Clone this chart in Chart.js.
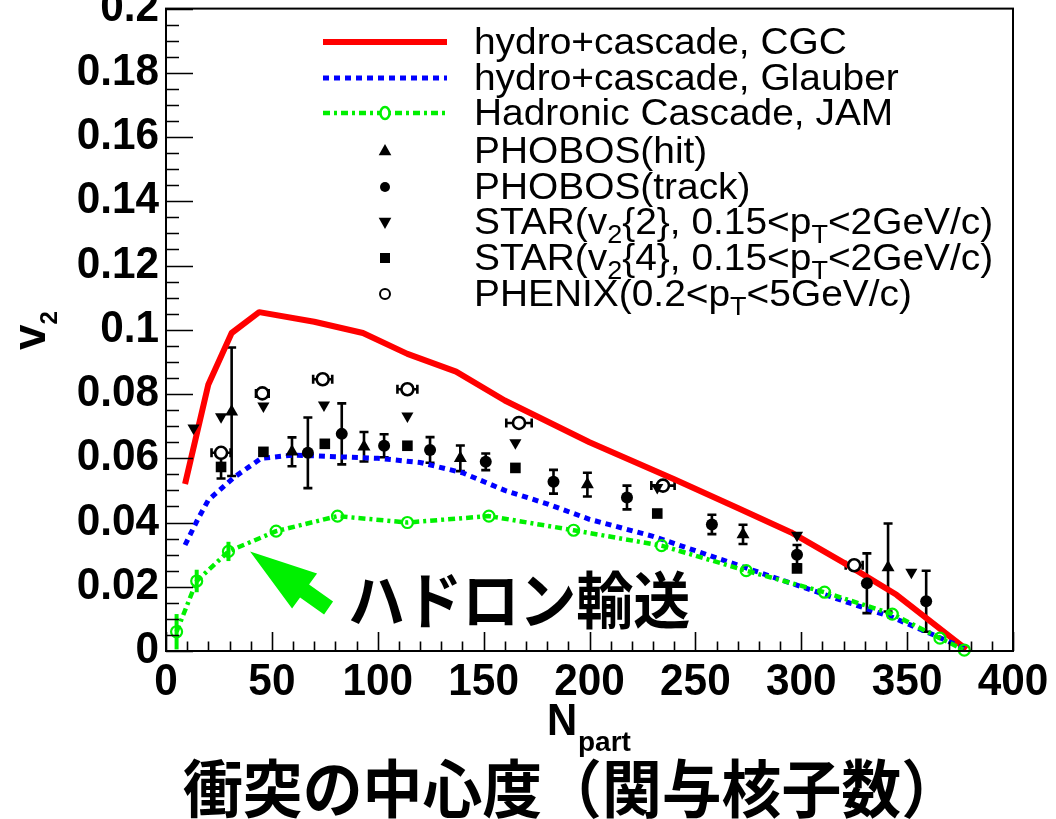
<!DOCTYPE html>
<html><head><meta charset="utf-8">
<script src="https://cdn.jsdelivr.net/npm/chart.js@4.4.1/dist/chart.umd.min.js"></script>
<style>html,body{margin:0;padding:0;background:#fff;}#c{display:block;}</style>
</head><body>
<canvas id="c" width="1056" height="819"></canvas>
<script>
// ---------- data ----------
const cgcN = [9, 20, 31, 44, 70, 93, 114, 137, 160, 200, 240, 270, 295, 320, 345, 378];
const cgcV = [0.052, 0.083, 0.099, 0.1055, 0.1025, 0.099, 0.0925, 0.087, 0.078, 0.065, 0.0535, 0.0445, 0.037, 0.0275, 0.0175, 0.0005];

const glauberN = [9, 15, 20, 32, 45, 60, 80, 100, 120, 140, 160, 180, 200, 230, 260, 280, 310, 343, 365, 378];
const glauberV = [0.033, 0.041, 0.047, 0.054, 0.060, 0.061, 0.0605, 0.060, 0.0587, 0.0555, 0.050, 0.0458, 0.041, 0.0357, 0.029, 0.0245, 0.0178, 0.0105, 0.0043, 0.0005];

const jamN = [5, 14.5, 29.5, 52, 81, 114, 152.5, 192.5, 234, 274, 311, 343, 365.5, 377];
const jamV = [0.006, 0.0218, 0.031, 0.0373, 0.042, 0.040, 0.042, 0.0376, 0.0328, 0.025, 0.0183, 0.0115, 0.004, 0.0003];
const jamErr = [0.0055, 0.0035, 0.003, 0, 0, 0, 0, 0, 0, 0, 0, 0, 0, 0];

const phobosHitN = [31, 59.5, 93.5, 139, 199, 272.5, 341];
const phobosHitV = [0.0745, 0.062, 0.0636, 0.060, 0.0518, 0.0363, 0.026];
const phobosHitErr = [0.020, 0.0045, 0.0046, 0.004, 0.0037, 0.003, 0.0137];

const phobosTrackN = [67, 83, 103, 124.7, 151, 183, 217.7, 257.8, 298, 331, 359];
const phobosTrackV = [0.0617, 0.0676, 0.0639, 0.0626, 0.0589, 0.0527, 0.0478, 0.0394, 0.030, 0.0211, 0.0155];
const phobosTrackErr = [0.011, 0.0095, 0.0036, 0.004, 0.0026, 0.0037, 0.0037, 0.003, 0.003, 0.0093, 0.0095];

const star2N = [13, 26, 46, 74.6, 114, 165, 232, 298, 352];
const star2V = [0.0694, 0.0729, 0.0763, 0.0766, 0.0732, 0.0648, 0.0509, 0.036, 0.0245];

const star4N = [26, 46, 75, 114, 165, 232, 298];
const star4V = [0.0573, 0.062, 0.0645, 0.0639, 0.057, 0.0428, 0.0257];
const star4Err = [0.0036, 0, 0, 0, 0, 0, 0];

const phenixN = [26, 45.5, 74, 114, 166.7, 234.7, 325];
const phenixV = [0.0617, 0.0802, 0.0846, 0.0815, 0.071, 0.0515, 0.0267];
const phenixNErr = [4.5, 3, 4.5, 4.7, 6, 5.5, 4];

const xTickValues = [0, 50, 100, 150, 200, 250, 300, 350, 400];
const xTickLabels = ['0', '50', '100', '150', '200', '250', '300', '350', '400'];
const yTickValues = [0, 0.02, 0.04, 0.06, 0.08, 0.1, 0.12, 0.14, 0.16, 0.18, 0.2];
const yTickLabels = ['0', '0.02', '0.04', '0.06', '0.08', '0.1', '0.12', '0.14', '0.16', '0.18', '0.2'];

const legendLabels = [
  'hydro+cascade, CGC',
  'hydro+cascade, Glauber',
  'Hadronic Cascade, JAM',
  'PHOBOS(hit)',
  'PHOBOS(track)',
  'STAR(v_2{2}, 0.15<p_T<2GeV/c)',
  'STAR(v_2{4}, 0.15<p_T<2GeV/c)',
  'PHENIX(0.2<p_T<5GeV/c)'
];
const xTitleMain = 'N', xTitleSub = 'part';
const yTitleMain = 'v', yTitleSub = '2';
const bottomTitle = '衝突の中心度（関与核子数）';
const noteText = 'ハドロン輸送';
const noteAnchor = {x: 86, y: 0.0158};
const arrowTip = {x: 39.7, y: 0.031};

// ---------- helpers ----------
const pts = (xs, ys) => xs.map((x, i) => ({x: x, y: ys[i]}));
const GREEN = '#00f000';

function drawScaledText(ctx, s, x, y, font, align, sx, baseline) {
  ctx.save();
  ctx.font = font;
  ctx.textAlign = align;
  ctx.textBaseline = baseline || 'alphabetic';
  ctx.translate(x, y);
  ctx.scale(sx, 1);
  ctx.fillText(s, 0, 0);
  ctx.restore();
}

function drawRuns(ctx, label, x, y, size, subSize, sx) {
  // '_c' marks a one-character subscript
  let cx = x;
  let i = 0;
  ctx.save();
  ctx.fillStyle = '#000';
  ctx.textBaseline = 'alphabetic';
  ctx.textAlign = 'left';
  while (i < label.length) {
    let sub = false, s;
    if (label[i] === '_') { sub = true; s = label[i + 1]; i += 2; }
    else {
      let j = i;
      while (j < label.length && label[j] !== '_') j++;
      s = label.slice(i, j); i = j;
    }
    const fsize = sub ? subSize : size;
    ctx.font = fsize + 'px "Liberation Sans", Arial, sans-serif';
    const w = ctx.measureText(s).width * sx;
    ctx.save();
    ctx.translate(cx, y + (sub ? 9 : 0));
    ctx.scale(sx, 1);
    ctx.fillText(s, 0, 0);
    ctx.restore();
    cx += w;
  }
  ctx.restore();
}

function marker(ctx, type, x, y, r) {
  ctx.save();
  ctx.fillStyle = '#000';
  ctx.strokeStyle = '#000';
  ctx.beginPath();
  if (type === 'tu') {
    ctx.moveTo(x, y - r); ctx.lineTo(x + r * 0.9, y + r * 0.6); ctx.lineTo(x - r * 0.9, y + r * 0.6); ctx.closePath(); ctx.fill();
  } else if (type === 'td') {
    ctx.moveTo(x, y + r); ctx.lineTo(x + r * 0.9, y - r * 0.6); ctx.lineTo(x - r * 0.9, y - r * 0.6); ctx.closePath(); ctx.fill();
  } else if (type === 'c') {
    ctx.arc(x, y, r, 0, Math.PI * 2); ctx.fill();
  } else if (type === 's') {
    ctx.rect(x - r, y - r, 2 * r, 2 * r); ctx.fill();
  } else if (type === 'o') {
    ctx.lineWidth = 2; ctx.arc(x, y, r, 0, Math.PI * 2); ctx.stroke();
  }
  ctx.restore();
}

// ---------- plugin: error bars, frame, ticks, labels, legend, notes ----------
const decor = {
  id: 'decor',
  beforeDatasetsDraw(chart) {
    const ctx = chart.ctx, xs = chart.scales.x, ys = chart.scales.y;
    const vbar = (xsArr, vArr, eArr, color, lw, cap) => {
      ctx.save();
      ctx.strokeStyle = color; ctx.lineWidth = lw;
      xsArr.forEach((n, i) => {
        const e = eArr[i]; if (!e) return;
        const px = xs.getPixelForValue(n);
        const y1 = ys.getPixelForValue(vArr[i] - e), y2 = ys.getPixelForValue(vArr[i] + e);
        ctx.beginPath();
        ctx.moveTo(px, y1); ctx.lineTo(px, y2);
        ctx.moveTo(px - cap, y1); ctx.lineTo(px + cap, y1);
        ctx.moveTo(px - cap, y2); ctx.lineTo(px + cap, y2);
        ctx.stroke();
      });
      ctx.restore();
    };
    vbar(phobosHitN, phobosHitV, phobosHitErr, '#000', 2.6, 4.5);
    vbar(phobosTrackN, phobosTrackV, phobosTrackErr, '#000', 2.6, 4.5);
    vbar(star4N, star4V, star4Err, '#000', 2.6, 4.5);
    vbar(jamN, jamV, jamErr, GREEN, 4, 0);
    // horizontal bars for PHENIX
    ctx.save();
    ctx.strokeStyle = '#000'; ctx.lineWidth = 2.6;
    phenixN.forEach((n, i) => {
      const e = phenixNErr[i];
      const py = ys.getPixelForValue(phenixV[i]);
      const x1 = xs.getPixelForValue(n - e), x2 = xs.getPixelForValue(n + e);
      ctx.beginPath();
      ctx.moveTo(x1, py); ctx.lineTo(x2, py);
      ctx.moveTo(x1, py - 4.5); ctx.lineTo(x1, py + 4.5);
      ctx.moveTo(x2, py - 4.5); ctx.lineTo(x2, py + 4.5);
      ctx.stroke();
    });
    ctx.restore();
  },
  afterDraw(chart) {
    const ctx = chart.ctx, xs = chart.scales.x, ys = chart.scales.y, a = chart.chartArea;
    ctx.save();
    // frame
    ctx.strokeStyle = '#000'; ctx.lineWidth = 2;
    ctx.strokeRect(a.left, a.top, a.right - a.left, a.bottom - a.top);
    // x ticks (inside)
    ctx.lineWidth = 1.6;
    ctx.beginPath();
    for (let v = 0; v <= 400; v += 10) {
      const px = Math.round(xs.getPixelForValue(v)) + 0.5;
      const len = (v % 50 === 0) ? 19 : 9.5;
      ctx.moveTo(px, a.bottom); ctx.lineTo(px, a.bottom - len);
    }
    // y ticks (inside)
    for (let k = 0; k <= 40; k++) {
      const v = k * 0.005;
      const py = Math.round(ys.getPixelForValue(v)) + 0.5;
      const len = (k % 4 === 0) ? 27 : 13;
      ctx.moveTo(a.left, py); ctx.lineTo(a.left + len, py);
    }
    ctx.stroke();
    ctx.fillStyle = '#000';
    // tick labels
    xTickValues.forEach((v, i) => {
      drawScaledText(ctx, xTickLabels[i], xs.getPixelForValue(v), 695, 'bold 45px "Liberation Sans", Arial, sans-serif', 'center', 0.94);
    });
    yTickValues.forEach((v, i) => {
      drawScaledText(ctx, yTickLabels[i], 159, ys.getPixelForValue(v) + 12, 'bold 45px "Liberation Sans", Arial, sans-serif', 'right', 0.94);
    });
    // axis titles
    drawScaledText(ctx, xTitleMain, 547, 735, 'bold 44px "Liberation Sans", Arial, sans-serif', 'left', 0.95);
    drawScaledText(ctx, xTitleSub, 578, 751, 'bold 28px "Liberation Sans", Arial, sans-serif', 'left', 1);
    ctx.save();
    ctx.translate(45, 350);
    ctx.rotate(-Math.PI / 2);
    ctx.font = 'bold 46px "Liberation Sans", Arial, sans-serif';
    ctx.textAlign = 'left'; ctx.textBaseline = 'alphabetic';
    ctx.fillText(yTitleMain, 0, 0);
    const vw = ctx.measureText(yTitleMain).width;
    ctx.font = 'bold 24px "Liberation Sans", Arial, sans-serif';
    ctx.fillText(yTitleSub, vw, 12);
    ctx.restore();
    // bottom Japanese title
    drawScaledText(ctx, bottomTitle, 572, 788, 'bold 63px "Noto Sans CJK JP", sans-serif', 'center', 0.95, 'middle');
    // note text + arrow
    drawScaledText(ctx, noteText, xs.getPixelForValue(noteAnchor.x), ys.getPixelForValue(noteAnchor.y), 'bold 62px "Noto Sans CJK JP", sans-serif', 'left', 0.92, 'middle');
    const tx = xs.getPixelForValue(arrowTip.x), ty = ys.getPixelForValue(arrowTip.y);
    const shape = [[0, 0], [67, 22], [59, 33], [83, 50], [74, 63], [50, 46], [42, 57]];
    ctx.fillStyle = GREEN;
    ctx.beginPath();
    shape.forEach((p, i) => { if (i === 0) ctx.moveTo(tx + p[0], ty + p[1]); else ctx.lineTo(tx + p[0], ty + p[1]); });
    ctx.closePath(); ctx.fill();
    // legend
    const rows = [42, 78, 113, 151, 187, 222, 258, 294];
    const lx1 = 323, lx2 = 447, mx = 385, tx0 = 474;
    ctx.lineCap = 'butt';
    ctx.strokeStyle = '#ff0000'; ctx.lineWidth = 6; ctx.setLineDash([]);
    ctx.beginPath(); ctx.moveTo(lx1, rows[0]); ctx.lineTo(lx2, rows[0]); ctx.stroke();
    ctx.strokeStyle = '#0000ff'; ctx.lineWidth = 5; ctx.setLineDash([6, 5]);
    ctx.beginPath(); ctx.moveTo(lx1, rows[1]); ctx.lineTo(lx2, rows[1]); ctx.stroke();
    ctx.strokeStyle = GREEN; ctx.lineWidth = 4.5; ctx.setLineDash([7, 4, 3, 4]);
    ctx.beginPath(); ctx.moveTo(lx1, rows[2]); ctx.lineTo(lx2, rows[2]); ctx.stroke();
    ctx.setLineDash([]);
    ctx.fillStyle = '#fff'; ctx.lineWidth = 2.5;
    ctx.beginPath(); ctx.ellipse(mx, rows[2], 4.5, 6, 0, 0, Math.PI * 2); ctx.fill(); ctx.stroke();
    marker(ctx, 'tu', mx, rows[3], 7);
    marker(ctx, 'c', mx, rows[4], 5);
    marker(ctx, 'td', mx, rows[5], 7);
    marker(ctx, 's', mx, rows[6], 5);
    marker(ctx, 'o', mx, rows[7], 5);
    legendLabels.forEach((lab, i) => drawRuns(ctx, lab, tx0, rows[i] + 12, 36, 25, 1.08));
    ctx.restore();
  }
};

const datasets = [
  {data: pts(cgcN, cgcV), showLine: true, borderColor: '#ff0000', borderWidth: 6, pointRadius: 0, order: 3},
  {data: pts(glauberN, glauberV), showLine: true, borderColor: '#0000ff', borderWidth: 5, borderDash: [6, 5], pointRadius: 0, order: 2},
  {data: pts(jamN, jamV), showLine: true, borderColor: GREEN, borderWidth: 4.5, borderDash: [7, 4, 3, 4],
   pointRadius: 5.5, pointStyle: 'circle', pointBorderColor: GREEN, pointBackgroundColor: 'rgba(255,255,255,0)', pointBorderWidth: 2.2, order: 1},
  {data: pts(phobosHitN, phobosHitV), pointStyle: 'triangle', pointRadius: 7.5, pointBackgroundColor: '#000', pointBorderColor: '#000', pointBorderWidth: 0, order: 0},
  {data: pts(phobosTrackN, phobosTrackV), pointStyle: 'circle', pointRadius: 6, pointBackgroundColor: '#000', pointBorderColor: '#000', pointBorderWidth: 0, order: 0},
  {data: pts(star2N, star2V), pointStyle: 'triangle', rotation: 180, pointRotation: 180, pointRadius: 7, pointBackgroundColor: '#000', pointBorderColor: '#000', pointBorderWidth: 0, order: 0},
  {data: pts(star4N, star4V), pointStyle: 'rect', pointRadius: 7.5, pointBackgroundColor: '#000', pointBorderColor: '#000', pointBorderWidth: 0, order: 0},
  {data: pts(phenixN, phenixV), pointStyle: 'circle', pointRadius: 6, pointBackgroundColor: '#fff', pointBorderColor: '#000', pointBorderWidth: 2.6, order: 0}
];
datasets.forEach(d => { d.clip = false; if (!d.showLine) d.showLine = false; });

new Chart(document.getElementById('c'), {
  type: 'scatter',
  data: {datasets: datasets},
  options: {
    responsive: false,
    animation: false,
    devicePixelRatio: 1,
    layout: {padding: {left: 166, top: 7, right: 43, bottom: 168}},
    plugins: {legend: {display: false}, tooltip: {enabled: false}},
    elements: {line: {tension: 0, borderCapStyle: 'butt', borderJoinStyle: 'round'}},
    scales: {
      x: {type: 'linear', min: 0, max: 400, display: false},
      y: {type: 'linear', min: 0, max: 0.2, display: false}
    }
  },
  plugins: [decor]
});
</script>
</body></html>
